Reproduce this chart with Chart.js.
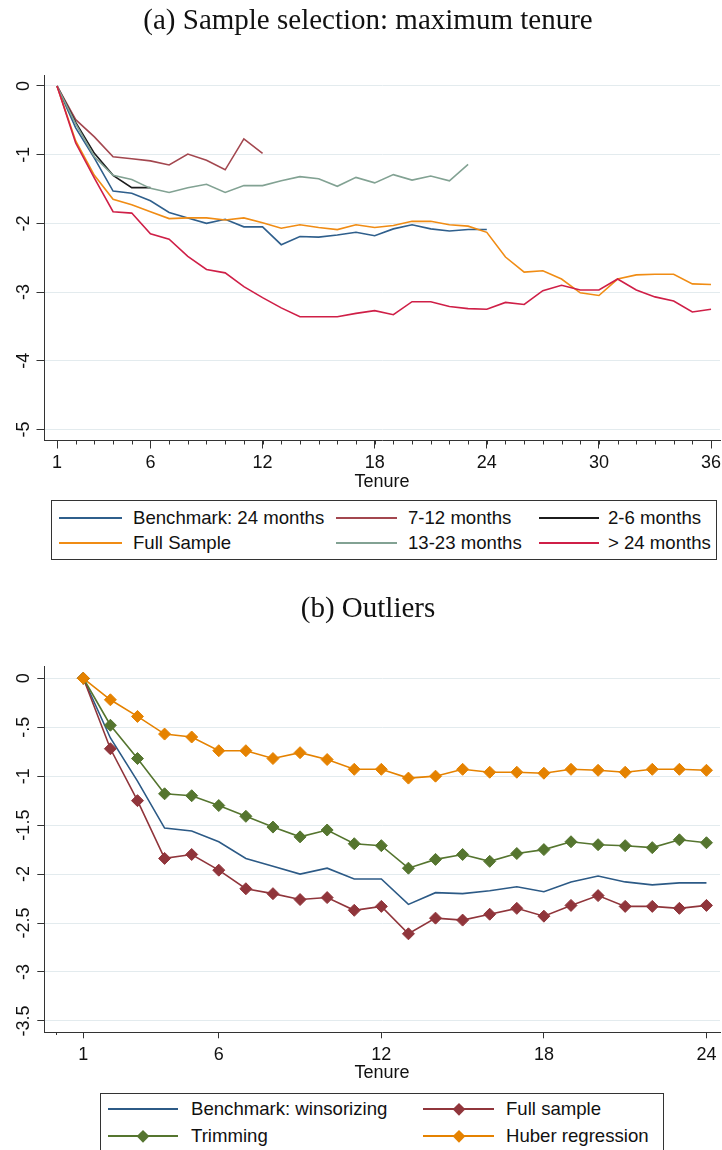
<!DOCTYPE html>
<html>
<head>
<meta charset="utf-8">
<script src="https://cdn.jsdelivr.net/npm/chart.js@4"></script>
<style>
html,body{margin:0;padding:0;background:#fff;}
#page{position:relative;width:722px;height:1150px;overflow:hidden;font-family:"Liberation Sans",Arial,sans-serif;}
.cv{position:absolute;left:0;}
.legbox{position:absolute;border:1px solid #333;box-sizing:border-box;background:#fff;}
.li{position:absolute;height:0;border-top:2px solid;transform:translateY(-1px);}
.lt{position:absolute;font-size:18.6px;line-height:18px;transform:translateY(-50%);white-space:nowrap;color:#111;}
.lm{position:absolute;width:8.5px;height:8.5px;transform:translate(-50%,-50%) rotate(45deg);}
</style>
</head>
<body>
<div id="page">
  <canvas id="chartA" class="cv" width="722" height="495" style="top:0px"></canvas>
  <div id="legA"></div>
  <canvas id="chartB" class="cv" width="722" height="505" style="top:585px"></canvas>
  <div id="legB"></div>
</div>
<script>
// ---------------- DATA ----------------
const titleA = "(a) Sample selection: maximum tenure";
const titleB = "(b) Outliers";
const axisTitle = "Tenure";

const tenureA = [1,2,3,4,5,6,7,8,9,10,11,12,13,14,15,16,17,18,19,20,21,22,23,24,25,26,27,28,29,30,31,32,33,34,35,36];
const tenureB = [1,2,3,4,5,6,7,8,9,10,11,12,13,14,15,16,17,18,19,20,21,22,23,24];

const majorTicksA = [1,6,12,18,24,30,36];
const minorTicksA = [1,2,3,4,5,6,7,8,9,10,11,12,13,14,15,16,17,18,19,20,21,22,23,24,25,26,27,28,29,30,31,32,33,34,35,36];
const yTicksA = [0,-1,-2,-3,-4,-5];

const majorTicksB = [1,6,12,18,24];
const minorTicksB = [0];
const yTicksB = [0,-0.5,-1,-1.5,-2,-2.5,-3,-3.5];

// Panel (a)
const benchmark = [0,-0.61,-1.05,-1.53,-1.56,-1.67,-1.84,-1.92,-2.00,-1.94,-2.05,-2.05,-2.31,-2.19,-2.20,-2.17,-2.13,-2.18,-2.08,-2.02,-2.08,-2.11,-2.09,-2.09];
const months7to12 = [0,-0.49,-0.74,-1.03,-1.06,-1.09,-1.15,-0.99,-1.08,-1.22,-0.77,-0.98];
const months2to6 = [0,-0.53,-0.98,-1.30,-1.48,-1.48];
const fullSampleA = [0,-0.80,-1.30,-1.65,-1.73,-1.83,-1.93,-1.92,-1.92,-1.95,-1.92,-1.99,-2.07,-2.02,-2.06,-2.09,-2.02,-2.06,-2.03,-1.97,-1.97,-2.02,-2.04,-2.13,-2.49,-2.71,-2.69,-2.81,-3.01,-3.05,-2.81,-2.75,-2.74,-2.74,-2.88,-2.89];
const months13to23 = [0,-0.55,-1.03,-1.30,-1.36,-1.49,-1.55,-1.48,-1.43,-1.55,-1.45,-1.45,-1.38,-1.32,-1.35,-1.46,-1.33,-1.41,-1.29,-1.37,-1.31,-1.38,-1.14];
const over24 = [0,-0.83,-1.34,-1.83,-1.85,-2.15,-2.23,-2.48,-2.67,-2.72,-2.92,-3.08,-3.23,-3.36,-3.36,-3.36,-3.31,-3.27,-3.33,-3.14,-3.14,-3.21,-3.24,-3.25,-3.15,-3.18,-2.98,-2.90,-2.97,-2.97,-2.81,-2.97,-3.07,-3.13,-3.29,-3.25];

// Panel (b)
const fullSampleB = [0,-0.72,-1.25,-1.84,-1.80,-1.96,-2.15,-2.20,-2.26,-2.24,-2.37,-2.33,-2.61,-2.45,-2.47,-2.41,-2.35,-2.43,-2.32,-2.22,-2.33,-2.33,-2.35,-2.32];
const trimming = [0,-0.48,-0.82,-1.18,-1.20,-1.30,-1.41,-1.52,-1.62,-1.55,-1.69,-1.71,-1.94,-1.85,-1.80,-1.87,-1.79,-1.75,-1.67,-1.70,-1.71,-1.73,-1.65,-1.68];
const huber = [0,-0.22,-0.39,-0.57,-0.60,-0.74,-0.74,-0.82,-0.76,-0.83,-0.93,-0.93,-1.02,-1.00,-0.93,-0.96,-0.96,-0.97,-0.93,-0.94,-0.96,-0.93,-0.93,-0.94];

const labelsA = ["Benchmark: 24 months","7-12 months","2-6 months","Full Sample","13-23 months","> 24 months"];
const colorsA = ["#2f5f8c","#a3474f","#1c1c1c","#f08c14","#82a293","#cf1f47"];
const valuesA = [benchmark, months7to12, months2to6, fullSampleA, months13to23, over24];

const labelsB = ["Benchmark: winsorizing","Full sample","Trimming","Huber regression"];
const colorsB = ["#2c5a86","#90353b","#55752f","#e58200"];
const valuesB = [benchmark, fullSampleB, trimming, huber];
const markersB = [false, true, true, true];

// ---------------- RENDER ----------------
const SANS = '"Liberation Sans", Arial, sans-serif';
const SERIF = '"Liberation Serif", "Times New Roman", serif';
const INK = '#111';
const AXIS = '#333';

const minorTickPlugin = {
  id: 'minorTicks',
  afterDraw(chart, args, opts) {
    const s = chart.scales.x, ctx = chart.ctx;
    ctx.save();
    ctx.strokeStyle = opts.color; ctx.lineWidth = 1;
    opts.values.forEach(v => {
      const px = Math.round(s.getPixelForValue(v)) + 0.5;
      ctx.beginPath(); ctx.moveTo(px, s.top); ctx.lineTo(px, s.top + opts.length); ctx.stroke();
    });
    ctx.restore();
  }
};

function fmtB(v) {
  if (v === 0) return '0';
  const a = Math.abs(v);
  return (v < 0 ? '-' : '') + String(a).replace(/^0\./, '.');
}

function makeChart(id, cfg) {
  return new Chart(document.getElementById(id), {
    type: 'line',
    data: { datasets: cfg.datasets },
    options: {
      responsive: false, animation: false, devicePixelRatio: 1,
      layout: { autoPadding: false, padding: { left: 16, right: 2, top: 0, bottom: 0 } },
      plugins: {
        legend: { display: false }, tooltip: { enabled: false },
        title: { display: true, text: cfg.title, color: INK,
          font: { family: SERIF, size: 29, weight: 'normal', lineHeight: 1.2 },
          padding: cfg.titlePad },
        minorTicks: { values: cfg.minor, length: cfg.minorLen, color: AXIS }
      },
      scales: {
        x: {
          type: 'linear', min: cfg.xmin, max: cfg.xmax,
          afterBuildTicks: s => { s.ticks = cfg.major.map(v => ({ value: v })); },
          afterFit: s => { s.height = cfg.xh; s.paddingLeft = 0; s.paddingRight = 0; },
          grid: { drawOnChartArea: false, drawTicks: true, tickLength: cfg.majorLen, tickColor: AXIS },
          border: { display: true, color: AXIS, width: 1 },
          ticks: { font: { family: SANS, size: 18 }, color: INK, padding: cfg.xpad, maxRotation: 0, autoSkip: false },
          title: { display: true, text: axisTitle, color: INK, font: { family: SANS, size: 18 }, padding: { top: 0, bottom: cfg.tpad } }
        },
        y: {
          type: 'linear', min: cfg.ymin, max: cfg.ymax,
          afterBuildTicks: s => { s.ticks = cfg.yticks.map(v => ({ value: v })); },
          afterFit: s => { s.width = 28; s.paddingTop = 0; s.paddingBottom = 0; },
          grid: { color: '#e3ebee', lineWidth: 1, drawTicks: true, tickLength: cfg.yTickLen, tickColor: AXIS },
          border: { display: true, color: AXIS, width: 1 },
          ticks: { font: { family: SANS, size: 18 }, color: INK, padding: cfg.ypad, minRotation: 90, maxRotation: 90,
                   crossAlign: 'center', autoSkip: false, callback: v => fmtB(v) }
        }
      }
    },
    plugins: [minorTickPlugin]
  });
}

const dsA = valuesA.map((vals, k) => ({
  label: labelsA[k],
  data: vals.map((v, i) => ({ x: tenureA[i], y: v })),
  borderColor: colorsA[k], backgroundColor: colorsA[k],
  borderWidth: 1.6, pointRadius: 0, fill: false, order: valuesA.length - k
}));

const dsB = valuesB.map((vals, k) => ({
  label: labelsB[k],
  data: vals.map((v, i) => ({ x: tenureB[i], y: v })),
  borderColor: colorsB[k], backgroundColor: colorsB[k],
  borderWidth: 1.6, fill: false,
  pointStyle: 'rectRot', pointRadius: markersB[k] ? 6 : 0, pointBorderWidth: 1,
  order: valuesB.length - k
}));

makeChart('chartA', {
  datasets: dsA, title: titleA, titlePad: { top: 4.3, bottom: 35.9 },
  xmin: 0.304, xmax: 36.48, major: majorTicksA, minor: minorTicksA, majorLen: 8.5, minorLen: 4.5,
  xh: 55, xpad: 4, tpad: 2,
  ymin: -5.153, ymax: 0.16, yticks: yTicksA, yTickLen: 7.5, ypad: 4
});

makeChart('chartB', {
  datasets: dsB, title: titleB, titlePad: { top: 6.6, bottom: 40.3 },
  xmin: -0.451, xmax: 24.5, major: majorTicksB, minor: minorTicksB, majorLen: 6, minorLen: 2.7,
  xh: 57.7, xpad: 6.4, tpad: 6.2,
  ymin: -3.616, ymax: 0.118, yticks: yTicksB, yTickLen: 6.7, ypad: -2
});

// ---------------- HTML LEGENDS ----------------
function buildLegend(el, labels, colors, markers, L) {
  const box = document.createElement('div');
  box.className = 'legbox';
  Object.assign(box.style, { left: L.box[0] + 'px', top: L.box[1] + 'px', width: L.box[2] + 'px', height: L.box[3] + 'px' });
  el.appendChild(box);
  labels.forEach((lab, i) => {
    const c = i % L.cols, r = Math.floor(i / L.cols);
    const y = L.rows[r];
    const ln = document.createElement('div');
    ln.className = 'li';
    Object.assign(ln.style, { left: L.lineX[c] + 'px', top: y + 'px', width: L.lineW[c] + 'px', borderTopColor: colors[i] });
    el.appendChild(ln);
    if (markers && markers[i]) {
      const m = document.createElement('div');
      m.className = 'lm';
      Object.assign(m.style, { left: (L.lineX[c] + L.lineW[c] / 2) + 'px', top: y + 'px', background: colors[i] });
      el.appendChild(m);
    }
    const t = document.createElement('div');
    t.className = 'lt';
    t.textContent = lab;
    Object.assign(t.style, { left: L.textX[c] + 'px', top: y + 'px' });
    el.appendChild(t);
  });
}

buildLegend(document.getElementById('legA'), labelsA, colorsA, null, {
  box: [51, 500, 666, 60], cols: 3, rows: [517.7, 543.4],
  lineX: [59, 336, 539], lineW: [63, 61, 60], textX: [133, 408, 608]
});
buildLegend(document.getElementById('legB'), labelsB, colorsB, markersB, {
  box: [100, 1093, 564, 62], cols: 2, rows: [1109.4, 1135.5],
  lineX: [108, 423], lineW: [70, 71], textX: [191, 506]
});
</script>
</body>
</html>
